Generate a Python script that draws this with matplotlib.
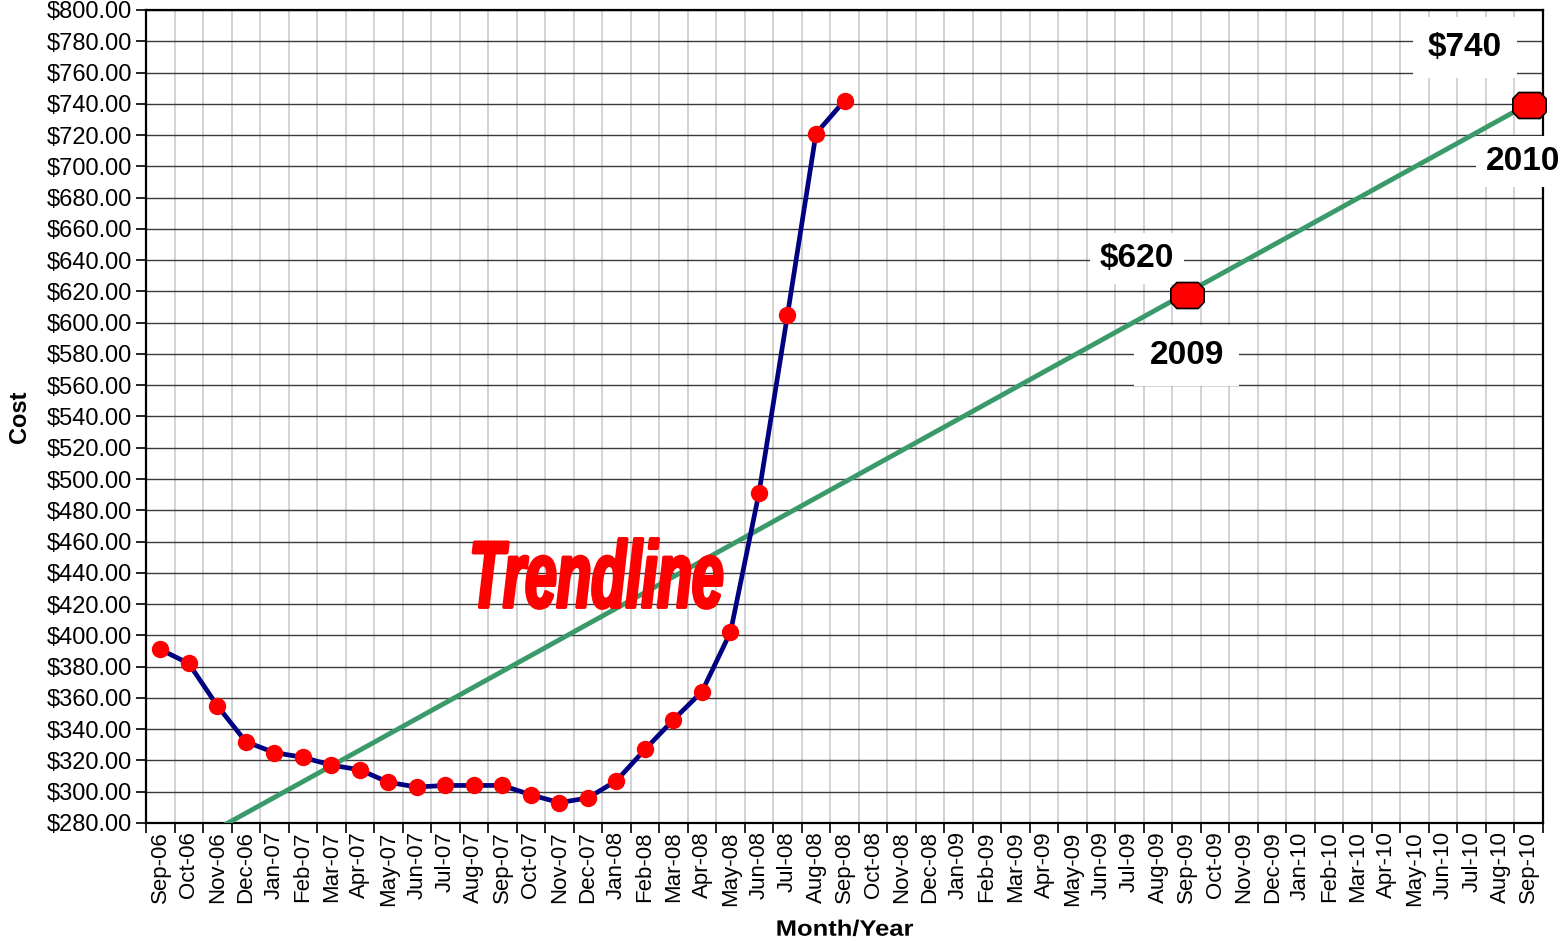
import numpy as np
import matplotlib
matplotlib.use("Agg")
import matplotlib.pyplot as plt
from matplotlib.path import Path
from matplotlib.patheffects import AbstractPathEffect
from matplotlib.transforms import Affine2D

plt.rcParams['font.family'] = ['Liberation Sans', 'DejaVu Sans']

# months on the category axis
months = ["Sep-06", "Oct-06", "Nov-06", "Dec-06", "Jan-07", "Feb-07", "Mar-07", "Apr-07",
          "May-07", "Jun-07", "Jul-07", "Aug-07", "Sep-07", "Oct-07", "Nov-07", "Dec-07",
          "Jan-08", "Feb-08", "Mar-08", "Apr-08", "May-08", "Jun-08", "Jul-08", "Aug-08",
          "Sep-08", "Oct-08", "Nov-08", "Dec-08", "Jan-09", "Feb-09", "Mar-09", "Apr-09",
          "May-09", "Jun-09", "Jul-09", "Aug-09", "Sep-09", "Oct-09", "Nov-09", "Dec-09",
          "Jan-10", "Feb-10", "Mar-10", "Apr-10", "May-10", "Jun-10", "Jul-10", "Aug-10",
          "Sep-10"]

# actual monthly cost, Sep-06 .. Sep-08
cost = [391, 382, 355, 332, 325, 322, 317, 314, 306, 303, 304, 304, 304, 298, 293, 296,
        307, 327, 346, 364, 402, 491, 605, 721, 742]

# trendline end points
trend_months = ["Sep-06", "Sep-10"]
trend_values = [256, 740]

# projected points
proj_months = ["Sep-09", "Sep-10"]
proj_values = [618, 739]
proj_price = ["$620", "$740"]
proj_year = ["2009", "2010"]


class StretchX(AbstractPathEffect):
    # scale glyphs horizontally around a display x position, optional outline to fatten
    def __init__(self, sx, cx, stroke=0, color=None):
        super().__init__()
        self.sx = sx
        self.cx = cx
        self.stroke = stroke
        self.color = color

    def draw_path(self, renderer, gc, tpath, affine, rgbFace=None):
        t = affine + Affine2D().translate(-self.cx, 0).scale(self.sx, 1).translate(self.cx, 0)
        if self.stroke:
            gc0 = renderer.new_gc()
            gc0.copy_properties(gc)
            gc0.set_linewidth(self.stroke)
            gc0.set_foreground(self.color)
            gc0.set_joinstyle('round')
            renderer.draw_path(gc0, tpath, t, rgbFace)
            gc0.restore()
        else:
            renderer.draw_path(gc, tpath, t, rgbFace)


x = np.arange(len(months))
idx = {m: i for i, m in enumerate(months)}

fig = plt.figure(figsize=(15.6, 9.43), dpi=100)
ax = fig.add_axes([0.0936, 0.1273, 0.8955, 0.8621])

ax.set_xlim(-0.5, len(months) - 0.5)
ax.set_ylim(280, 800)

# grid
ax.set_yticks(np.arange(280, 801, 20))
ax.set_yticklabels([f"${v:.2f}" for v in np.arange(280, 801, 20)], fontsize=17)
ax.set_xticks(np.arange(len(months) + 1) - 0.5)
ax.set_xticklabels([])
ax.set_xticks(x, minor=True)
ax.set_xticklabels(months, minor=True, rotation=90, fontsize=16)
ax.tick_params(axis='x', which='minor', length=0, pad=6)
ax.tick_params(axis='x', which='major', length=7, width=1.2, direction='out')
ax.tick_params(axis='y', length=7, width=1.2, direction='out', pad=3)
ax.grid(axis='x', which='major', color='#c8c8c8', lw=1.1)
ax.grid(axis='y', which='major', color='#3a3a3a', lw=1.0)
ax.set_axisbelow(True)
for s in ax.spines.values():
    s.set_linewidth(1.6)
    s.set_color('black')
    s.set_zorder(2.5)

# trendline
tx = [idx[m] for m in trend_months]
ax.plot(tx, trend_values, color='#3a9a6a', lw=3.5, zorder=3, solid_capstyle='butt')

# actual cost
ax.plot(x[:len(cost)], cost, color='#000080', lw=3.4, marker='o', markersize=11.5,
        markerfacecolor='red', markeredgecolor='red', zorder=4)

# elongated octagon marker
oct_verts = [(-0.5, 0.2), (-0.32, 0.39), (0.32, 0.39), (0.5, 0.2), (0.5, -0.2),
             (0.32, -0.39), (-0.32, -0.39), (-0.5, -0.2), (-0.5, 0.2)]
octagon = Path(oct_verts, closed=True)
px = [idx[m] for m in proj_months]
ax.plot(px, proj_values, linestyle='none', marker=octagon, markersize=24,
        markerfacecolor='red', markeredgecolor='black', markeredgewidth=1.2,
        zorder=7, clip_on=False)

ax.text(px[0] - 1.75, 641, proj_price[0], fontsize=24, fontweight='bold',
        ha='center', va='center', zorder=6,
        bbox=dict(boxstyle='square,pad=0.3', facecolor='white', edgecolor='none'))
ax.text(px[0], 579, proj_year[0], fontsize=24, fontweight='bold',
        ha='center', va='center', zorder=6,
        bbox=dict(boxstyle='square,pad=0.45', facecolor='white', edgecolor='none'))
ax.text(px[1] - 2.25, 776, proj_price[1], fontsize=24, fontweight='bold',
        ha='center', va='center', zorder=6,
        bbox=dict(boxstyle='square,pad=0.45', facecolor='white', edgecolor='none'))
ax.text(px[1] - 0.2, 703, proj_year[1], fontsize=24, fontweight='bold',
        ha='center', va='center', zorder=6, clip_on=False,
        bbox=dict(boxstyle='square,pad=0.3', facecolor='white', edgecolor='none'))

# WordArt-like label
tl_x, tl_y = 15.3, 418
cx = ax.transData.transform((tl_x, tl_y))[0]
ax.text(tl_x, tl_y, "Trendline", fontsize=68, fontweight='bold', fontstyle='italic',
        color='red', ha='center', va='baseline', zorder=6,
        path_effects=[StretchX(0.6, cx, stroke=2.5, color='red')])

ax.set_ylabel("Cost", fontsize=17, fontweight='bold', labelpad=11)
ax.set_xlabel("Month/Year", fontsize=16, fontweight='bold', labelpad=10)
mid_x = ax.transAxes.transform((0.5, 0))[0]
ax.xaxis.label.set_path_effects([StretchX(1.15, mid_x)])

fig.savefig("out.png", dpi=100)
